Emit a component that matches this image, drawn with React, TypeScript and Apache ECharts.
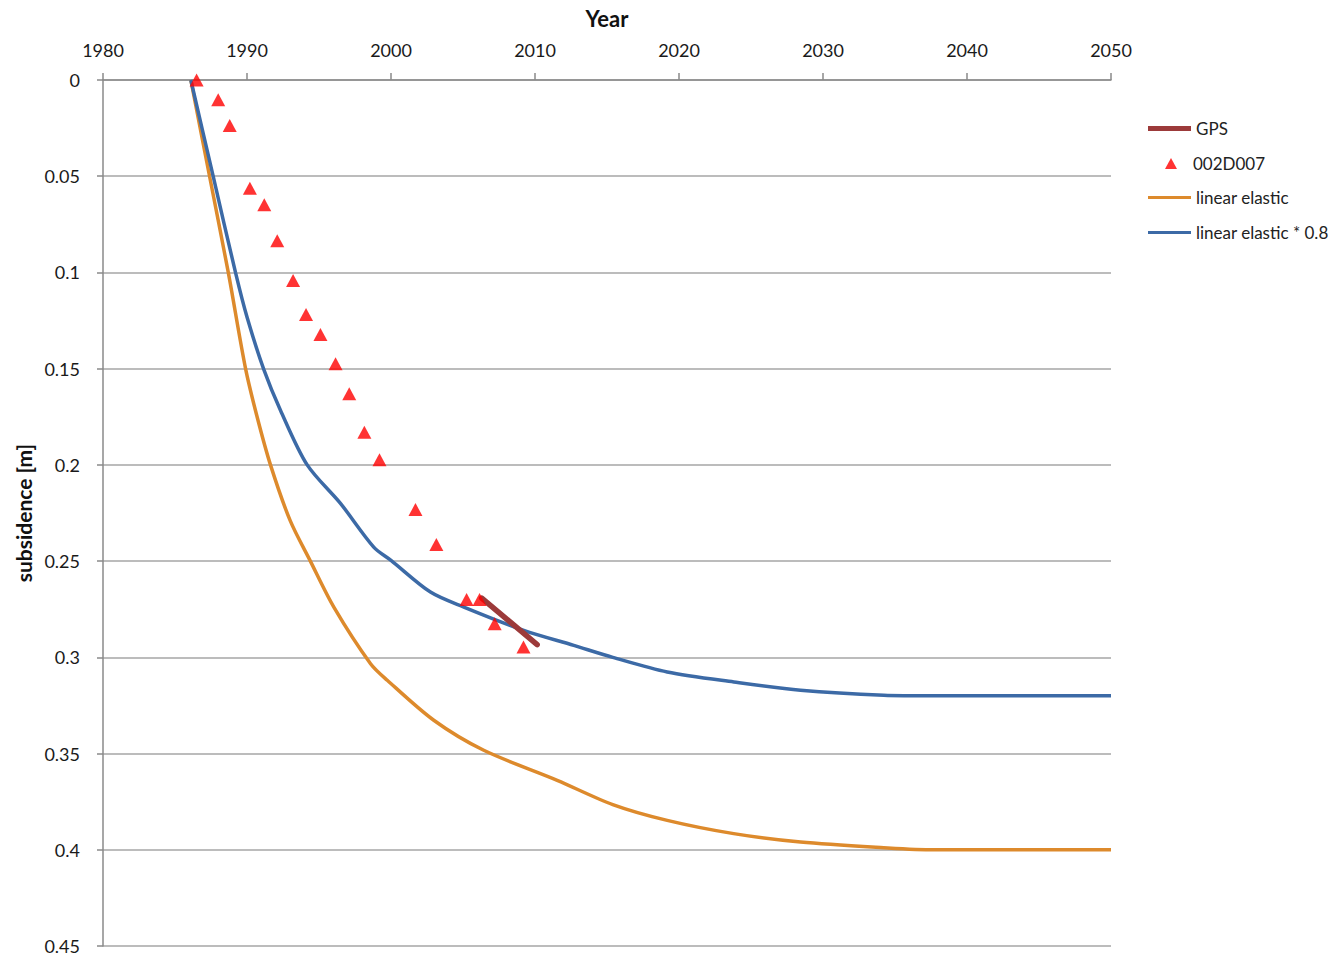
import React, { useEffect, useRef } from "react";
import * as echarts from "echarts";

const xTicks = { min: 1980, max: 2050, interval: 10 };
const yTicks = { min: 0, max: 0.45, interval: 0.05 };

const gpsYears = [2006.3, 2010.15];
const gpsValues = [0.2692, 0.2934];

const benchYears = [1986.5, 1988.0, 1988.8, 1990.2, 1991.2, 1992.1, 1993.2, 1994.1, 1995.1, 1996.15, 1997.1, 1998.15, 1999.2, 2001.7, 2003.15, 2005.25, 2006.15, 2007.2, 2009.2];
const benchValues = [0.0, 0.0103, 0.0236, 0.0562, 0.0648, 0.0835, 0.1042, 0.1218, 0.1322, 0.1474, 0.163, 0.183, 0.1973, 0.2232, 0.2414, 0.27, 0.27, 0.2825, 0.2946];

const elasticYears = [1986.1, 1987.4, 1988.7, 1989.9, 1990.7, 1991.63, 1993.0, 1994.4, 1996.03, 1998.58, 1999.74, 2002.97, 2006.44, 2011.54, 2015.4, 2019.18, 2023.8, 2028.44, 2034.22, 2037.7, 2050];
const elasticValues = [0, 0.05, 0.1, 0.15, 0.175, 0.2, 0.229, 0.25, 0.2739, 0.3033, 0.3119, 0.3327, 0.3483, 0.3639, 0.3765, 0.3847, 0.3916, 0.396, 0.3989, 0.4, 0.4];

const scaledYears = [1986.1, 1987.65, 1989.2, 1990.0, 1991.17, 1992.33, 1994.18, 1996.49, 1998.8, 2000.0, 2002.74, 2005.06, 2009.22, 2012.69, 2015.4, 2019.18, 2023.81, 2028.44, 2034.22, 2037.7, 2050];
const scaledValues = [0, 0.05, 0.1, 0.1232, 0.1505, 0.1717, 0.2, 0.22, 0.2427, 0.2496, 0.2661, 0.2739, 0.286, 0.2938, 0.3, 0.3076, 0.3128, 0.3171, 0.3197, 0.32, 0.32];

const seriesNames = ["GPS", "002D007", "linear elastic", "linear elastic * 0.8"];

const zip = (xs: number[], ys: number[]) => xs.map((x, i) => [x, ys[i]]);

const FONT = "Lato";
const legendText = { fontFamily: FONT, fontSize: 17, color: "#222" };

export default function App() {
  const ref = useRef<HTMLDivElement>(null);
  useEffect(() => {
    if (!ref.current) return;
    const chart = echarts.init(ref.current, undefined, { renderer: "svg" });
    chart.setOption({
      animation: false,
      backgroundColor: "#ffffff",
      textStyle: { fontFamily: FONT },
      grid: { left: 103, right: 223, top: 80, bottom: 10, containLabel: false },
      legend: [
        {
          left: 1148, top: 120, padding: 0, icon: "rect", itemWidth: 43, itemHeight: 5,
          textStyle: legendText, data: [seriesNames[0]],
        },
        {
          left: 1165, top: 155, padding: 0, icon: "triangle", itemWidth: 12, itemHeight: 11,
          textStyle: { ...legendText, padding: [0, 0, 0, 11] }, data: [seriesNames[1]],
        },
        {
          left: 1148, top: 189, padding: 0, icon: "rect", itemWidth: 43, itemHeight: 3,
          textStyle: legendText, data: [seriesNames[2]],
        },
        {
          left: 1148, top: 224, padding: 0, icon: "rect", itemWidth: 43, itemHeight: 3,
          textStyle: legendText, data: [seriesNames[3]],
        },
      ],
      xAxis: {
        type: "value",
        position: "top",
        min: xTicks.min,
        max: xTicks.max,
        interval: xTicks.interval,
        name: "Year",
        nameLocation: "middle",
        nameGap: 51,
        nameTextStyle: { fontFamily: FONT, fontSize: 22, fontWeight: "bold", color: "#111" },
        axisLine: { show: true, onZero: false, lineStyle: { color: "#8a8a8a", width: 1.5 } },
        axisTick: { show: true, inside: false, length: 7, lineStyle: { color: "#8a8a8a", width: 1.5 } },
        axisLabel: { fontFamily: FONT, fontSize: 18, color: "#1a1a1a", margin: 21, formatter: (v: number) => String(v) },
        splitLine: { show: false },
      },
      yAxis: {
        type: "value",
        inverse: true,
        min: yTicks.min,
        max: yTicks.max,
        interval: yTicks.interval,
        name: "subsidence [m]",
        nameLocation: "middle",
        nameGap: 69,
        nameRotate: 90,
        nameTextStyle: { fontFamily: FONT, fontSize: 21, fontWeight: "bold", color: "#111" },
        axisLine: { show: true, onZero: false, lineStyle: { color: "#8a8a8a", width: 1.5 } },
        axisTick: { show: true, inside: false, length: 6, lineStyle: { color: "#8a8a8a", width: 1.5 } },
        axisLabel: {
          fontFamily: FONT,
          fontSize: 18,
          color: "#1a1a1a",
          margin: 23,
          formatter: (v: number) => String(Math.round(v * 100) / 100),
        },
        splitLine: { show: true, lineStyle: { color: "#a6a6a6", width: 1.5 } },
      },
      series: [
        {
          name: seriesNames[0],
          type: "line",
          data: zip(gpsYears, gpsValues),
          symbol: "none",
          z: 4,
          lineStyle: { color: "#9c3a3a", width: 5.5, cap: "round" },
          itemStyle: { color: "#9c3a3a" },
        },
        {
          name: seriesNames[1],
          type: "scatter",
          data: zip(benchYears, benchValues),
          symbol: "triangle",
          symbolSize: [14, 13],
          z: 5,
          itemStyle: { color: "#ff0000" },
        },
        {
          name: seriesNames[2],
          type: "line",
          data: zip(elasticYears, elasticValues),
          symbol: "none",
          smooth: 0.3,
          z: 3,
          lineStyle: { color: "#dd8a2c", width: 3.5 },
          itemStyle: { color: "#dd8a2c" },
        },
        {
          name: seriesNames[3],
          type: "line",
          data: zip(scaledYears, scaledValues),
          symbol: "none",
          smooth: 0.3,
          z: 3,
          lineStyle: { color: "#3c6aa6", width: 3.5 },
          itemStyle: { color: "#3c6aa6" },
        },
      ],
    });
    return () => chart.dispose();
  }, []);
  return (
    <div
      ref={ref}
      style={{ position: "fixed", left: 0, top: 0, width: 1334, height: 956, background: "#fff" }}
    />
  );
}
